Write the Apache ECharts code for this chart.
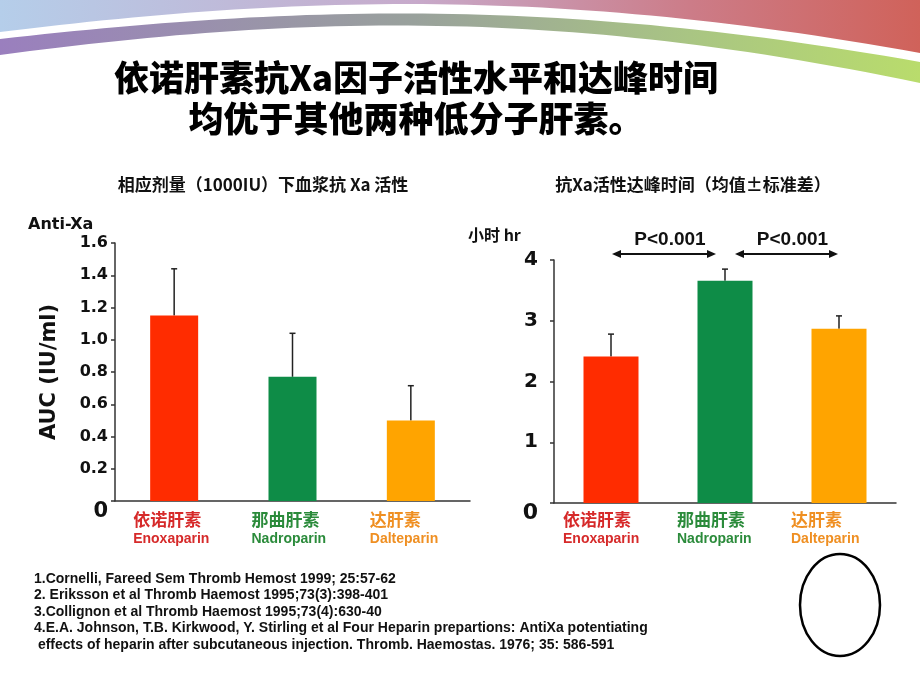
<!DOCTYPE html>
<html><head><meta charset="utf-8">
<script src="https://cdn.jsdelivr.net/npm/echarts@6/dist/echarts.min.js"></script>
<style>html,body{margin:0;padding:0;background:#fff}#c{width:920px;height:690px}</style>
</head><body><div id="c"></div>
<script>
// ---- data ----
const categoriesCN = ['依诺肝素', '那曲肝素', '达肝素'];
const categoriesEN = ['Enoxaparin', 'Nadroparin', 'Dalteparin'];
const aucMean = [1.15, 0.77, 0.50];      // AUC (IU/ml), anti-Xa
const aucSD = [0.29, 0.27, 0.215];
const tmaxMean = [2.41, 3.66, 2.87];     // hours
const tmaxSD = [0.37, 0.19, 0.21];
const pLabels = ['P<0.001', 'P<0.001'];
const pPairs = [[0, 1], [1, 2]];
const pLevel = 4.1;
const mainTitle = ['依诺肝素抗Xa因子活性水平和达峰时间', '均优于其他两种低分子肝素。'];
const leftTitle = '相应剂量（1000IU）下血浆抗 Xa 活性';
const rightTitle = '抗Xa活性达峰时间（均值±标准差）';
const references = [
  '1.Cornelli, Fareed Sem Thromb Hemost 1999; 25:57-62',
  '2. Eriksson et al Thromb Haemost 1995;73(3):398-401',
  '3.Collignon et al Thromb Haemost 1995;73(4):630-40',
  '4.E.A. Johnson, T.B. Kirkwood, Y. Stirling et al Four Heparin prepartions: AntiXa potentiating',
  ' effects of heparin after subcutaneous injection. Thromb. Haemostas. 1976; 35: 586-591'
];

// ---- style ----
const barColors = ['#FF2C00', '#0E8C47', '#FFA400'];
const labelColors = ['#D62A2A', '#2B8B3B', '#EF8F22'];
const axisColor = '#333';
const numFont = 'DejaVu Sans';
const cjkFont = 'Noto Sans CJK SC';

const chart = echarts.init(document.getElementById('c'));

function catLabel(width, margin) {
  const rich = {};
  labelColors.forEach((c, i) => {
    rich['cn' + i] = { color: c, fontSize: 17, fontWeight: 'bold', fontFamily: cjkFont, width: width, align: 'left', lineHeight: 20 };
    rich['en' + i] = { color: c, fontSize: 14, fontWeight: 'bold', fontFamily: 'Liberation Sans', width: width, align: 'left', lineHeight: 18 };
  });
  return {
    interval: 0, margin: margin,
    formatter: (v, i) => '{cn' + i + '|' + categoriesCN[i] + '}\n{en' + i + '|' + categoriesEN[i] + '}',
    rich: rich
  };
}

function errorSeries(idx, means, sds) {
  return {
    type: 'custom', xAxisIndex: idx, yAxisIndex: idx, z: 1, silent: true,
    data: means.map((m, i) => [i, m, m + sds[i]]),
    renderItem: (params, api) => {
      const base = api.coord([api.value(0), api.value(1)]);
      const top = api.coord([api.value(0), api.value(2)]);
      const cap = 3;
      const st = { stroke: '#222', lineWidth: 1.5 };
      return { type: 'group', children: [
        { type: 'line', shape: { x1: base[0], y1: base[1], x2: top[0], y2: top[1] }, style: st },
        { type: 'line', shape: { x1: top[0] - cap, y1: top[1], x2: top[0] + cap, y2: top[1] }, style: st }
      ] };
    }
  };
}

function barSeries(idx, means, width) {
  return {
    type: 'bar', xAxisIndex: idx, yAxisIndex: idx, z: 3, barWidth: width,
    data: means.map((v, i) => ({ value: v, itemStyle: { color: barColors[i] } }))
  };
}

const xAxisCommon = {
  type: 'category', data: categoriesCN,
  axisLine: { lineStyle: { color: axisColor, width: 1.5 } },
  axisTick: { interval: 0, length: 5, lineStyle: { color: axisColor, width: 1.5 } }
};
const yAxisCommon = {
  type: 'value', min: 0, splitLine: { show: false },
  axisLine: { show: true, lineStyle: { color: axisColor, width: 1.5 } },
  axisTick: { show: true, length: 4, lineStyle: { color: axisColor, width: 1.5 } }
};

chart.setOption({
  animation: false,
  grid: [
    { left: 115, top: 243, width: 355, height: 258 },
    { left: 554, top: 260, width: 342, height: 243 }
  ],
  xAxis: [
    Object.assign({ gridIndex: 0, axisLabel: catLabel(82, 9) }, xAxisCommon),
    Object.assign({ gridIndex: 1, axisLabel: catLabel(96, 7) }, xAxisCommon)
  ],
  yAxis: [
    Object.assign({
      gridIndex: 0, max: 1.6, interval: 0.2,
      name: 'AUC (IU/ml)', nameLocation: 'middle', nameGap: 55,
      nameTextStyle: { fontSize: 21, fontWeight: 'bold', fontFamily: numFont, color: '#111' },
      axisLabel: {
        margin: 7, color: '#111', fontSize: 16, fontWeight: 'bold', fontFamily: numFont,
        formatter: v => v === 0 ? '{z|0}' : v.toFixed(1),
        rich: { z: { fontSize: 21, fontWeight: 'bold', fontFamily: numFont, color: '#111', padding: [22, 0, 0, 0] } }
      }
    }, yAxisCommon),
    Object.assign({
      gridIndex: 1, max: 4, interval: 1,
      axisLabel: {
        margin: 16, color: '#111', fontSize: 20, fontWeight: 'bold', fontFamily: numFont,
        formatter: v => v === 0 ? '{z|0}' : String(v),
        rich: { z: { fontSize: 22, fontWeight: 'bold', fontFamily: numFont, color: '#111', padding: [20, 0, 0, 0] } }
      }
    }, yAxisCommon)
  ],
  series: [
    errorSeries(0, aucMean, aucSD),
    barSeries(0, aucMean, 48),
    errorSeries(1, tmaxMean, tmaxSD),
    barSeries(1, tmaxMean, 55)
  ]
});

// ---- decoration helpers ----
function cubicPts(p0, p1, p2, p3, n) {
  const pts = [];
  for (let k = 0; k <= n; k++) {
    const t = k / n, u = 1 - t;
    pts.push([
      u * u * u * p0[0] + 3 * u * u * t * p1[0] + 3 * u * t * t * p2[0] + t * t * t * p3[0],
      u * u * u * p0[1] + 3 * u * u * t * p1[1] + 3 * u * t * t * p2[1] + t * t * t * p3[1]
    ]);
  }
  return pts;
}

const g = [];
// decorative bands at the top
const band1 = [[0, 0], [920, 0]].concat(cubicPts([920, 53], [560, -12], [300, -5], [0, 32], 60));
g.push({
  type: 'polygon', silent: true, shape: { points: band1 },
  style: { fill: new echarts.graphic.LinearGradient(0, 0, 1, 0, [
    { offset: 0, color: '#B5CEEA' }, { offset: 0.45, color: '#C7AACB' },
    { offset: 0.75, color: '#CC7C88' }, { offset: 1, color: '#D0625A' }]) }
});
const band2 = cubicPts([0, 39], [300, 5], [560, -2], [920, 62], 60)
  .concat(cubicPts([920, 83], [560, 8], [300, 15], [0, 55], 60));
g.push({
  type: 'polygon', silent: true, shape: { points: band2 },
  style: { fill: new echarts.graphic.LinearGradient(0, 0, 1, 0, [
    { offset: 0, color: '#9A7FBE' }, { offset: 0.45, color: '#99A19C' },
    { offset: 0.75, color: '#A9C583' }, { offset: 1, color: '#B9DC6C' }]) }
});
// titles
mainTitle.forEach((t, i) => g.push({
  type: 'text', x: 416, y: 78 + i * 41,
  style: { text: t, fontSize: 35, fontWeight: 900, fontFamily: cjkFont, fill: '#000', align: 'center', verticalAlign: 'middle' }
}));
g.push({ type: 'text', x: 263, y: 185, style: { text: leftTitle, fontSize: 17, fontWeight: 'bold', fontFamily: cjkFont, fill: '#111', align: 'center', verticalAlign: 'middle' } });
g.push({ type: 'text', x: 693, y: 185, style: { text: rightTitle, fontSize: 17, fontWeight: 'bold', fontFamily: cjkFont, fill: '#111', align: 'center', verticalAlign: 'middle' } });
g.push({ type: 'text', x: 28, y: 225, style: { text: 'Anti-Xa', fontSize: 16, fontWeight: 'bold', fontFamily: numFont, fill: '#111', align: 'left', verticalAlign: 'middle' } });
g.push({ type: 'text', x: 468, y: 235, style: { text: '小时 hr', fontSize: 16, fontWeight: 'bold', fontFamily: cjkFont, fill: '#111', align: 'left', verticalAlign: 'middle' } });
// significance arrows
const gaps = [[1, -9], [10, -1]];
pPairs.forEach((pair, k) => {
  const a = chart.convertToPixel({ gridIndex: 1 }, [pair[0], pLevel]);
  const b = chart.convertToPixel({ gridIndex: 1 }, [pair[1], pLevel]);
  const x1 = a[0] + gaps[k][0], x2 = b[0] + gaps[k][1], y = a[1];
  const hl = 9, hw = 4;
  g.push({ type: 'line', shape: { x1: x1 + 4, y1: y, x2: x2 - 4, y2: y }, style: { stroke: '#111', lineWidth: 2 } });
  g.push({ type: 'polygon', shape: { points: [[x1, y], [x1 + hl, y - hw], [x1 + hl, y + hw]] }, style: { fill: '#111' } });
  g.push({ type: 'polygon', shape: { points: [[x2, y], [x2 - hl, y - hw], [x2 - hl, y + hw]] }, style: { fill: '#111' } });
  g.push({ type: 'text', x: (x1 + x2) / 2 + 6, y: y - 14, style: { text: pLabels[k], fontSize: 19, fontWeight: 'bold', fontFamily: 'Liberation Sans', fill: '#111', align: 'center', verticalAlign: 'middle' } });
});
// references
references.forEach((t, i) => g.push({
  type: 'text', x: 34, y: 579 + i * 16.5,
  style: { text: t, fontSize: 14, fontWeight: 'bold', fontFamily: '"Liberation Sans Narrow", "Liberation Sans"', fill: '#111', align: 'left', verticalAlign: 'middle' }
}));
// oval
g.push({ type: 'ellipse', shape: { cx: 840, cy: 605, rx: 40, ry: 51 }, style: { fill: 'none', stroke: '#000', lineWidth: 2.5 } });

chart.setOption({ graphic: g });
</script>
</body></html>
